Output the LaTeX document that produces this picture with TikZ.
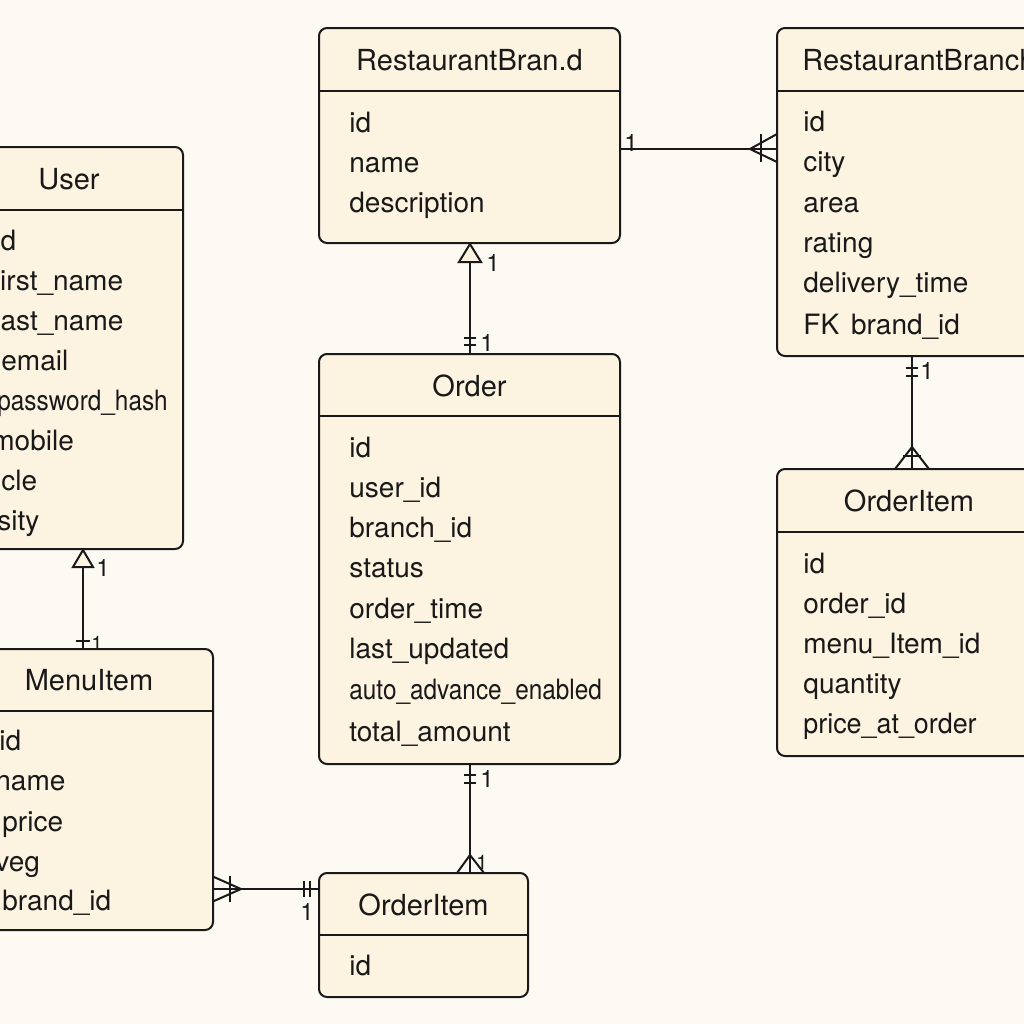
\documentclass[tikz,border=0pt]{standalone}
\usepackage{fontspec}
\setmainfont{TeX Gyre Heros}
\usetikzlibrary{fit,calc}
\definecolor{bgc}{RGB}{253,250,243}
\definecolor{boxc}{RGB}{252,243,225}
\definecolor{ink}{RGB}{25,25,25}
\begin{document}
\begin{tikzpicture}[x=0.5pt,y=-0.5pt,
  entity/.style={draw=ink, fill=boxc, line width=1pt, rounded corners=4pt, inner sep=0pt},
  etitle/.style={font=\fontsize{14.5}{16}\selectfont, text=ink, inner sep=0pt, anchor=center},
  attr/.style={font=\fontsize{14}{16}\selectfont, text=ink, inner sep=0pt, anchor=mid west, yshift=-2pt},
  conn/.style={draw=ink, line width=1pt},
  lbl/.style={font=\fontsize{12}{14}\selectfont, text=ink, inner sep=0pt, anchor=center},
  slbl/.style={font=\fontsize{10}{12}\selectfont, text=ink, inner sep=0pt, anchor=center}]
\fill[bgc] (0,0) rectangle (1024,1024);
\useasboundingbox (0,0) rectangle (1024,1024);

% ---------- entities ----------
\node[entity, fit={(319,28) (620,243)}] (brand) {};
\node[entity, fit={(777,28) (1060,356)}] (branch) {};
\node[entity, fit={(-45,147) (183,549)}] (user) {};
\node[entity, fit={(319,354) (620,764)}] (order) {};
\node[entity, fit={(-35,649) (213,930)}] (menu) {};
\node[entity, fit={(319,873) (528,997)}] (oia) {};
\node[entity, fit={(777,469) (1041,756)}] (oib) {};

% header dividers
\draw[conn] (brand.west |- 0,91) -- (brand.east |- 0,91);
\draw[conn] (branch.west |- 0,91) -- (branch.east |- 0,91);
\draw[conn] (user.west |- 0,210) -- (user.east |- 0,210);
\draw[conn] (order.west |- 0,416) -- (order.east |- 0,416);
\draw[conn] (menu.west |- 0,711) -- (menu.east |- 0,711);
\draw[conn] (oia.west |- 0,935) -- (oia.east |- 0,935);
\draw[conn] (oib.west |- 0,532) -- (oib.east |- 0,532);

% ---------- RestaurantBran.d ----------
\node[etitle] (brandT) at (469.5,60) {RestaurantBran.d};
\node[attr] (brand1) at (349,123) {id};
\node[attr] (brand2) at (349,163) {name};
\node[attr] (brand3) at (349,203) {description};

% ---------- RestaurantBranch ----------
\node[etitle, anchor=west] (branchT) at (802,60) {RestaurantBranch};
\node[attr] (branch1) at (803,122) {id};
\node[attr] (branch2) at (803,162) {city};
\node[attr] (branch3) at (803,203) {area};
\node[attr] (branch4) at (803,243) {rating};
\node[attr] (branch5) at (803,283) {delivery\_time};
\node[attr] (branch6) at (803,325) {FK\hspace{6pt}brand\_id};

% ---------- User ----------
\node[etitle] (userT) at (69,179) {User};
\node[attr] (user1) at (-6,241) {id};
\node[attr] (user2) at (-8,281) {first\_name};
\node[attr] (user3) at (-6,321) {last\_name};
\node[attr] (user4) at (1,361) {email};
\node[attr] (user5) at (-3,401) {\scalebox{0.87}[1]{password\_hash}};
\node[attr] (user6) at (-9,441) {mobile};
\node[attr] (user7) at (1,481) {cle};
\node[attr] (user8) at (-3,521) {sity};

% ---------- Order ----------
\node[etitle] (orderT) at (469.5,386) {Order};
\node[attr] (order1) at (349,448) {id};
\node[attr] (order2) at (349,488) {user\_id};
\node[attr] (order3) at (349,528) {branch\_id};
\node[attr] (order4) at (349,568) {status};
\node[attr] (order5) at (349,609) {order\_time};
\node[attr] (order6) at (349,649) {last\_updated};
\node[attr] (order7) at (349,690) {\scalebox{0.87}[1]{auto\_advance\_enabled}};
\node[attr] (order8) at (349,732) {total\_amount};

% ---------- MenuItem ----------
\node[etitle] (menuT) at (89,680) {MenuItem};
\node[attr] (menu1) at (-1,741) {id};
\node[attr] (menu2) at (-5,781) {name};
\node[attr] (menu3) at (2,822) {price};
\node[attr] (menu4) at (-5,862) {veg};
\node[attr] (menu5) at (2,901) {brand\_id};

% ---------- OrderItem (bottom) ----------
\node[etitle] (oiaT) at (423.5,905) {OrderItem};
\node[attr] (oia1) at (349,966) {id};

% ---------- OrderItem (right) ----------
\node[etitle] (oibT) at (909,501) {OrderItem};
\node[attr] (oib1) at (803,564) {id};
\node[attr] (oib2) at (803,604) {order\_id};
\node[attr] (oib3) at (803,644) {menu\_Item\_id};
\node[attr] (oib4) at (803,684) {quantity};
\node[attr] (oib5) at (803,724) {\scalebox{0.96}[1]{price\_at\_order}};

% ---------- connectors ----------
% brand -- branch
\draw[conn] (brand.east |- 0,149) -- (branch.west |- 0,149);
\node[lbl] (l1a) at (631,143) {1};
\draw[conn] (777,134) -- (750,149) -- (777,162);
\draw[conn] (761,134) -- (761,162);

% order -> brand
\draw[conn] (order.north) -- (brand.south);
\draw[conn, fill=boxc] (470,244) -- (459,262) -- (481,262) -- cycle;
\node[lbl] (l2a) at (493,263) {1};
\draw[conn] (464,338) -- (476,338);
\draw[conn] (464,345) -- (476,345);
\node[lbl] (l2b) at (487,343) {1};

% menu -> user
\draw[conn] (menu.north -| 83,0) -- (user.south -| 83,0);
\draw[conn, fill=boxc] (83,550) -- (73,567) -- (93,567) -- cycle;
\node[lbl] (l3a) at (103,568) {1};
\draw[conn] (76,641) -- (90,641);
\node[slbl] (l3b) at (97,643) {1};

% branch -- oib
\draw[conn] (branch.south -| 912,0) -- (oib.north -| 912,0);
\draw[conn] (906,368) -- (918,368);
\draw[conn] (906,376) -- (918,376);
\node[lbl] (l4a) at (927,371) {1};
\draw[conn] (895,469) -- (912,447) -- (929,469);
\draw[conn] (903,456) -- (921,456);

% order -- oia
\draw[conn] (order.south) -- (oia.north -| order.south);
\draw[conn] (464,775) -- (476,775);
\draw[conn] (464,783) -- (476,783);
\node[lbl] (l5a) at (487,779) {1};
\draw[conn] (457,873) -- (470,855) -- (484,873);
\node[slbl] (l5b) at (482,862) {1};

% menu -- oia
\draw[conn] (menu.east |- 0,889) -- (oia.west |- 0,889);
\draw[conn] (214,877) -- (241,889) -- (214,901);
\draw[conn] (230,876) -- (230,902);
\draw[conn] (304,881) -- (304,897);
\draw[conn] (310,881) -- (310,897);
\node[lbl] (l6a) at (307,912) {1};
\end{tikzpicture}
\end{document}
